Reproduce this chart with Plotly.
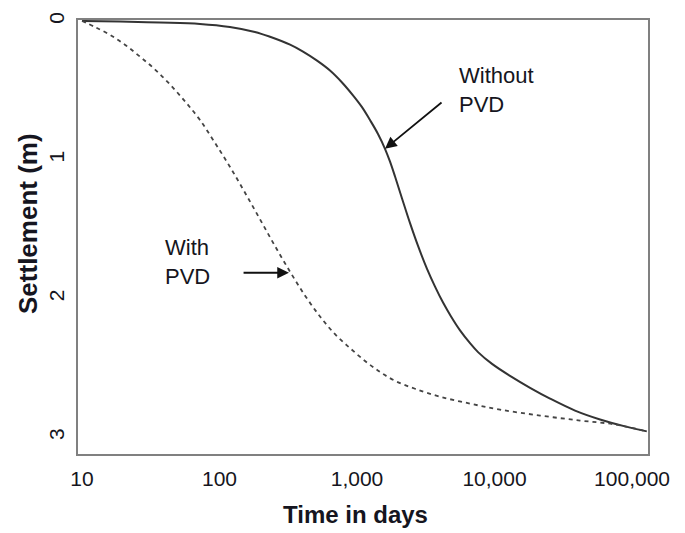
import plotly.graph_objects as go

# Data (time in days, settlement in m)
t_without = [10, 18.9, 36.9, 72.1, 119, 181, 233, 326, 405, 512, 636, 778, 935,
             1087, 1243, 1421, 1598, 1738, 1890, 2125, 2430, 2778, 3229, 3693,
             4222, 4827, 5612, 6634, 7586, 9590, 12960, 18130, 25330, 38500,
             58530, 88950, 128000]
s_without = [0.0, 0.004, 0.011, 0.021, 0.043, 0.079, 0.114, 0.171, 0.221, 0.286,
             0.357, 0.443, 0.536, 0.621, 0.714, 0.814, 0.921, 1.014, 1.121, 1.279,
             1.457, 1.621, 1.786, 1.914, 2.029, 2.129, 2.229, 2.321, 2.386, 2.471,
             2.557, 2.643, 2.721, 2.807, 2.871, 2.921, 2.957]

t_with = [10, 12.4, 16.0, 20.5, 26.4, 34.0, 43.6, 56.1, 72.1, 92.8, 119, 153, 197,
          253, 326, 419, 538, 692, 889, 1144, 1470, 1890, 2641, 4015, 6634, 10965,
          21420, 41860, 75220, 128000]
s_with = [0.0, 0.043, 0.10, 0.171, 0.257, 0.35, 0.457, 0.579, 0.714, 0.879, 1.05,
          1.236, 1.429, 1.621, 1.807, 1.979, 2.129, 2.257, 2.357, 2.45, 2.529, 2.593,
          2.65, 2.707, 2.757, 2.80, 2.843, 2.879, 2.907, 2.957]

x_tickvals = [10, 100, 1000, 10000, 100000]
x_ticktext = ["10", "100", "1,000", "10,000", "100,000"]
y_tickvals = [0, 1, 2, 3]
y_ticktext = ["0", "1", "2", "3"]

FONT = "Liberation Sans, Arial, sans-serif"
TXT = "#151520"

fig = go.Figure()
fig.add_trace(go.Scatter(x=t_without, y=s_without, mode="lines",
                         line=dict(color="#333333", width=2, shape="spline", smoothing=1.0),
                         name="Without PVD", showlegend=False))
fig.add_trace(go.Scatter(x=t_with, y=s_with, mode="lines",
                         line=dict(color="#444444", width=1.8, dash="4px,4px",
                                   shape="spline", smoothing=1.0),
                         name="With PVD", showlegend=False))

# Annotations with arrows
fig.add_annotation(x=3.2036, y=0.921, xref="x", yref="y",
                   ax=3.6255, ay=0.579, axref="x", ayref="y",
                   text="", showarrow=True, arrowhead=2, arrowsize=1.3,
                   arrowwidth=1.8, arrowcolor="#111111")
fig.add_annotation(x=3.727, y=0.50, xref="x", yref="y", xanchor="left", yanchor="middle",
                   text="Without<br>PVD", showarrow=False, align="left",
                   font=dict(family=FONT, size=22, color=TXT))
fig.add_annotation(x=2.505, y=1.814, xref="x", yref="y",
                   ax=2.164, ay=1.814, axref="x", ayref="y",
                   text="", showarrow=True, arrowhead=2, arrowsize=1.3,
                   arrowwidth=1.8, arrowcolor="#111111")
fig.add_annotation(x=1.589, y=1.736, xref="x", yref="y", xanchor="left", yanchor="middle",
                   text="With<br>PVD", showarrow=False, align="left",
                   font=dict(family=FONT, size=22, color=TXT))

# Axis titles
fig.add_annotation(x=-0.0877, y=0.53, xref="paper", yref="paper",
                   xanchor="center", yanchor="middle", textangle=-90,
                   text="<b>Settlement (m)</b>", showarrow=False,
                   font=dict(family=FONT, size=26, color=TXT))
fig.add_annotation(x=0.486, y=-0.139, xref="paper", yref="paper",
                   xanchor="center", yanchor="middle",
                   text="<b>Time in days</b>", showarrow=False,
                   font=dict(family=FONT, size=24, color=TXT))

fig.update_layout(
    width=685, height=533,
    margin=dict(l=78, r=37, t=16, b=79),
    paper_bgcolor="white", plot_bgcolor="white",
    font=dict(family=FONT, color=TXT),
    showlegend=False,
)
fig.update_xaxes(type="log", range=[0.971, 5.116],
                 tickvals=x_tickvals, ticktext=x_ticktext,
                 tickfont=dict(size=21, family=FONT, color=TXT),
                 ticks="", ticklabelstandoff=5,
                 showgrid=False, zeroline=False,
                 showline=True, linecolor="#808080", linewidth=2, mirror=True)
fig.update_yaxes(range=[3.12, -0.007],
                 tickvals=y_tickvals, ticktext=y_ticktext, tickangle=-90,
                 tickfont=dict(size=21, family=FONT, color=TXT),
                 ticks="", ticklabelstandoff=4,
                 showgrid=False, zeroline=False,
                 showline=True, linecolor="#808080", linewidth=2, mirror=True)

fig.write_html("out.html")
